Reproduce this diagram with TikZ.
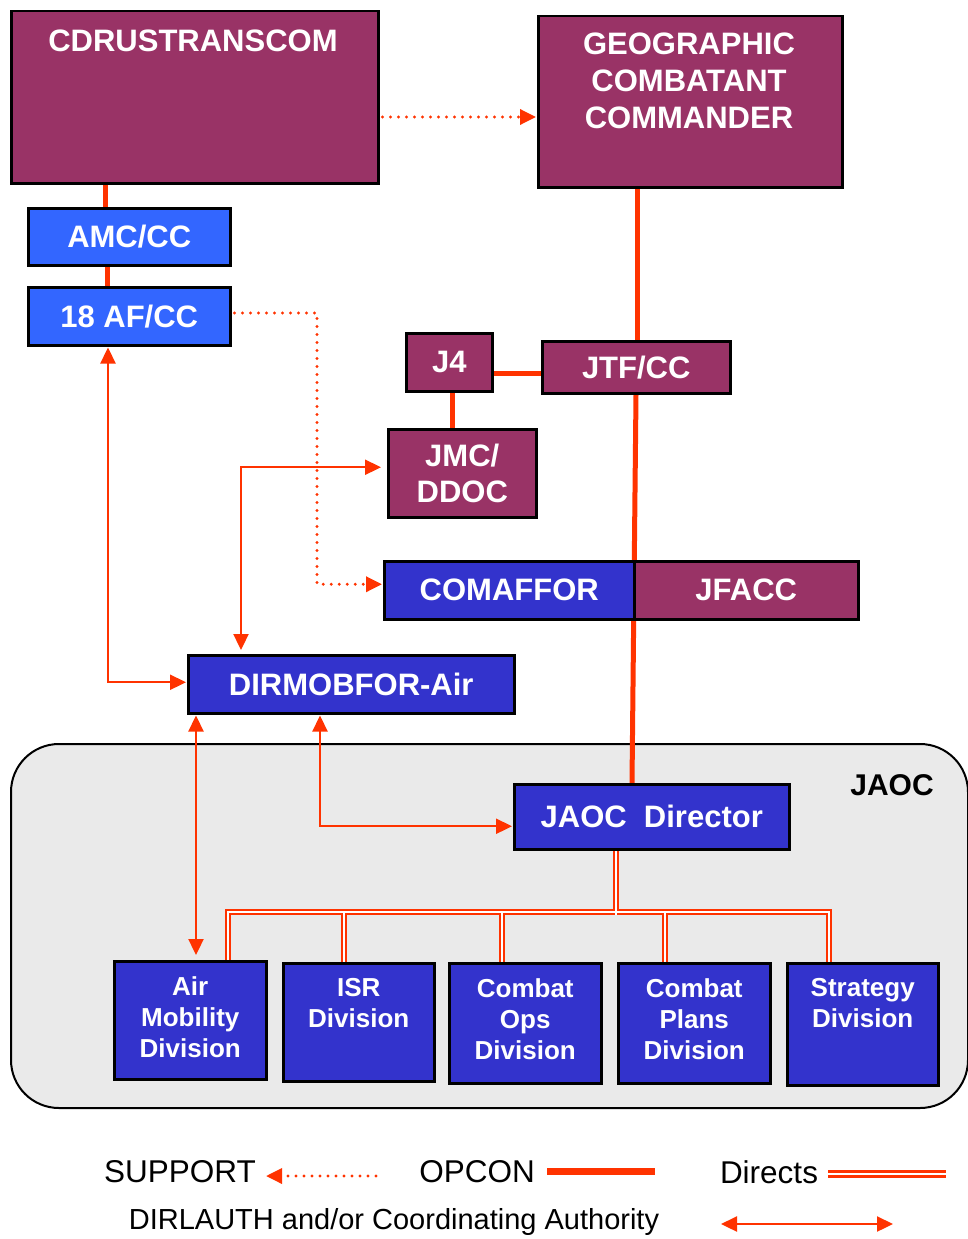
\documentclass[tikz,border=0pt]{standalone}
\usepackage{fontspec}
\setmainfont{Liberation Sans}
\usetikzlibrary{arrows.meta,calc}
\definecolor{maroon}{HTML}{993366}
\definecolor{dblue}{HTML}{3333CC}
\definecolor{lblue}{HTML}{3366FF}
\definecolor{ored}{HTML}{FF3300}
\definecolor{jgray}{HTML}{EAEAEA}
\pgfdeclarelayer{back}
\pgfdeclarelayer{conn}
\pgfsetlayers{back,conn,main}
\begin{document}
\begin{tikzpicture}[x=1pt,y=-1pt,
  box/.style={draw=black, line width=2.5pt, anchor=north west, inner sep=0pt, text=white,
    font=\bfseries\fontsize{31}{36}\selectfont, align=center},
  divbox/.style={box, fill=dblue},
  wtext/.style={text=white, inner sep=0pt, align=center, font=\bfseries\fontsize{31}{37}\selectfont},
  divtext/.style={text=white, inner sep=0pt, align=center, anchor=north, font=\bfseries\fontsize{26}{31}\selectfont},
  opcon/.style={draw=ored, line width=5pt},
  support/.style={draw=ored, line width=3.4pt, dash pattern=on 0pt off 8pt, line cap=round,
    -{Triangle[length=16pt,width=15pt]}},
  dirl/.style={draw=ored, line width=2.3pt, {Triangle[length=16pt,width=15pt]}-{Triangle[length=16pt,width=15pt]}},
  dirout/.style={draw=ored, line width=6pt},
  dirin/.style={draw=white, line width=2.2pt},
  legtext/.style={inner sep=0pt, font=\fontsize{31.5}{36}\selectfont}
]
\useasboundingbox (0,0) rectangle (968,1239);

% JAOC container
\begin{pgfonlayer}{back}
\node[draw=black, line width=2pt, fill=jgray, rounded corners=48pt, anchor=north west,
  minimum width=957pt, minimum height=364pt] (jaoc) at (10,743) {};
\end{pgfonlayer}
\node[inner sep=0pt, font=\bfseries\fontsize{30}{36}\selectfont] (jaocl) at (892,785) {JAOC};

% boxes
\node[box, fill=maroon, minimum width=367pt, minimum height=172pt] (cdrus) at (10,10) {};
\node[wtext] (cdrust) at (193,41) {CDRUSTRANSCOM};
\node[box, fill=maroon, minimum width=304pt, minimum height=171pt] (geo) at (537,15) {};
\node[wtext, anchor=north] (geot) at (689,33) {GEOGRAPHIC\\COMBATANT\\COMMANDER};
\node[box, fill=lblue, minimum width=202pt, minimum height=57pt] (amc) at (27,207) {AMC/CC};
\node[box, fill=lblue, minimum width=202pt, minimum height=58pt] (af18) at (27,286) {18 AF/CC};
\node[box, fill=maroon, minimum width=86pt, minimum height=58pt] (j4) at (405,332) {J4};
\node[box, fill=maroon, minimum width=188pt, minimum height=52pt] (jtf) at (541,340) {\raisebox{-4pt}{JTF/CC}};
\node[box, fill=maroon, minimum width=148pt, minimum height=88pt] (jmc) at (387,428) {\raisebox{-3pt}{\parbox{140pt}{\centering JMC/\\DDOC}}};
\node[box, fill=dblue, minimum width=250pt, minimum height=58pt] (comaffor) at (383,560) {COMAFFOR};
\node[box, fill=maroon, minimum width=224pt, minimum height=58pt] (jfacc) at (633,560) {JFACC};
\node[box, fill=dblue, minimum width=326pt, minimum height=58pt] (dirmob) at (187,654) {DIRMOBFOR-Air};
\node[box, fill=dblue, minimum width=275pt, minimum height=65pt] (jaocdir) at (513,783) {JAOC\ \ Director};

\node[divbox, minimum width=152pt, minimum height=118pt] (amd) at (113,960) {};
\node[divtext] (amdt) at ($(amd.north)+(0,16)$) {Air\\Mobility\\Division};
\node[divbox, minimum width=151pt, minimum height=118pt] (isr) at (282,962) {};
\node[divtext] (isrt) at ($(isr.north)+(0,16)$) {ISR\\Division};
\node[divbox, minimum width=152pt, minimum height=120pt] (cops) at (448,962) {};
\node[divtext] (copst) at ($(cops.north)+(0,16)$) {Combat\\Ops\\Division};
\node[divbox, minimum width=152pt, minimum height=120pt] (cplans) at (617,962) {};
\node[divtext] (cplanst) at ($(cplans.north)+(0,16)$) {Combat\\Plans\\Division};
\node[divbox, minimum width=151pt, minimum height=122pt] (strat) at (786,962) {};
\node[divtext] (stratt) at ($(strat.north)+(0,16)$) {Strategy\\Division};

% connectors
\begin{pgfonlayer}{conn}
\coordinate (vt) at ($(jaocdir.north west)+(119,0)$);
\draw[opcon] ($(cdrus.south west)+(95,0)$) -- ($(amc.north west)+(78,0)$);
\draw[opcon] ($(amc.south west)+(80,0)$) -- ($(af18.north west)+(80,0)$);
\draw[opcon] ($(geo.south west)+(100,0)$) -- ($(jtf.north west)+(96,0)$);
\draw[opcon] ($(j4.south east)+(0,-19)$) -- ($(jtf.south west)+(0,-21)$);
\draw[opcon] ($(j4.south west)+(47,0)$) -- ($(jmc.north west)+(65,0)$);
\draw[opcon] ($(jtf.south west)+(95,0)$) -- (vt);
\draw[opcon] ($(dirmob.east)+(0,-2)$) -- ($(dirmob.east)+(0,-2)$ -| vt);

\draw[support] ($(cdrus.north east)+(3,107)$) -- ($(geo.north west)+(-1,102)$);
\draw[support] ($(af18.north east)+(3,27)$) -| ($(comaffor.west)+(-66,-6)$) -- ($(comaffor.west)+(-1,-6)$);

\draw[dirl] ($(af18.south west)+(81,1)$) |- ($(dirmob.west)+(-1,-2)$);
\draw[dirl] ($(jmc.west)+(-6,-6)$) -| ($(dirmob.north west)+(54,-4)$);
\draw[dirl] ($(dirmob.south west)+(9,1)$) -- ($(amd.north west)+(83,-5)$);
\draw[dirl] ($(dirmob.south west)+(133,1)$) |- ($(jaocdir.west)+(-1,9.5)$);

% directs: two passes
\foreach \s in {dirout,dirin}{
  \draw[\s] ($(jaocdir.south west)+(103,0)$) -- ($(jaocdir.south west)+(103,64)$);
  \draw[\s] ($(amd.north west)+(115,0)$) |- ($(strat.north west)+(43,-50)$) -- ($(strat.north west)+(43,0)$);
  \draw[\s] ($(isr.north west)+(62,0)$) -- ($(isr.north west)+(62,-50)$);
  \draw[\s] ($(cops.north west)+(54,0)$) -- ($(cops.north west)+(54,-50)$);
  \draw[\s] ($(cplans.north west)+(48,0)$) -- ($(cplans.north west)+(48,-50)$);
}
\end{pgfonlayer}

% legend
\node[legtext] (lsup) at (180,1172) {SUPPORT};
\coordinate (ls1) at (376,1176);
\coordinate (ls2) at (266,1176);
\draw[support] (ls1) -- (ls2);
\node[legtext] (lop) at (477,1172) {OPCON};
\coordinate (lo1) at (547,1171);
\coordinate (lo2) at (655,1171);
\draw[draw=ored, line width=7pt] (lo1) -- (lo2);
\node[legtext] (ldir) at (769,1172) {Directs};
\coordinate (ld1) at (828,1174);
\coordinate (ld2) at (946,1174);
\draw[draw=ored, line width=8pt] (ld1) -- (ld2);
\draw[draw=white, line width=2.2pt] (ld1) -- (ld2);
\node[inner sep=0pt, font=\fontsize{29}{34}\selectfont] (ldl) at (394,1222) {DIRLAUTH and/or Coordinating Authority};
\coordinate (la1) at (721,1224);
\coordinate (la2) at (893,1224);
\draw[dirl] (la1) -- (la2);
\end{tikzpicture}
\end{document}
